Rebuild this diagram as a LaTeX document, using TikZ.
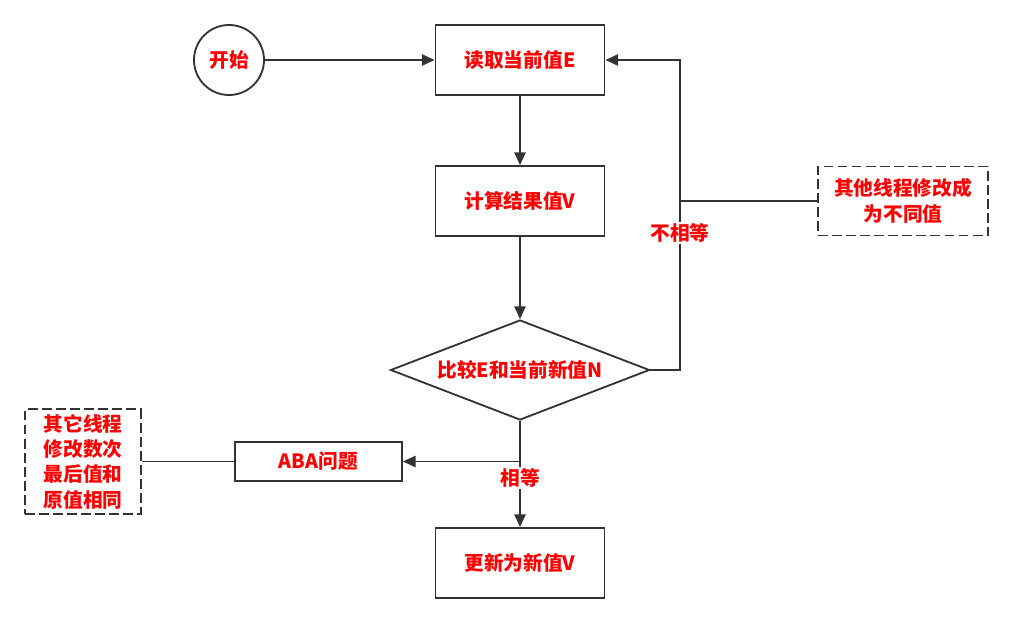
\documentclass[tikz,border=0pt]{standalone}
\usepackage{fontspec}
\setmainfont{Noto Sans CJK SC}
\usetikzlibrary{shapes.geometric, arrows.meta}
\definecolor{ink}{HTML}{333333}
\definecolor{alert}{HTML}{FF0000}

\begin{document}
\begin{tikzpicture}[x=0.025cm, y=-0.025cm, font=\bfseries\fontsize{14}{18}\selectfont,
  box/.style={draw=ink, line width=1.3pt, rectangle, minimum width=4.225cm, minimum height=1.75cm, text=alert},
  startnode/.style={draw=ink, line width=1.3pt, circle, minimum size=1.75cm, inner sep=0pt, text=alert},
  decision/.style={draw=ink, line width=1.3pt, diamond, minimum width=6.475cm, minimum height=2.5cm, inner sep=0pt, aspect=2.6, text=alert},
  note/.style={draw=ink, line width=1.3pt, dash pattern=on 7pt off 3pt, align=center, text=alert},
  flow/.style={draw=ink, line width=1.3pt, -{Triangle[length=9pt, width=8pt]}},
  link/.style={draw=ink, line width=1.3pt},
  lbl/.style={fill=white, inner sep=1pt, text=alert}]
  \useasboundingbox (0,0) rectangle (1013,623);

  % main column
  \node[startnode] (start) at (229,60) {开始};
  \node[box] (read) at (520,60) {读取当前值E};
  \node[box] (calc) at (520,201) {计算结果值V};
  \node[decision] (cmp) at (520,370) {比较E和当前新值N};
  \node[box] (update) at (520,563) {更新为新值V};

  % side boxes
  \node[box, minimum width=4.175cm, minimum height=0.975cm] (aba) at (318.5,461.5) {ABA问题};
  \node[note, minimum width=2.9cm, minimum height=2.575cm] (abanote) at (83,461.5) {其它线程\\修改数次\\最后值和\\原值相同};
  \node[note, minimum width=4.25cm, minimum height=1.725cm] (othernote) at (903,201) {其他线程修改成\\为不同值};
  \coordinate (loop) at (680,201);

  % connectors
  \draw[flow] (start) -- (read);
  \draw[flow] (read) -- (calc);
  \draw[flow] (calc) -- (cmp);
  \draw[flow] (cmp.east) -| (loop) |- (read.east);
  \draw[link] (othernote) -- (loop);
  \node[lbl] (neq) at (680,233) {不相等};
  \draw[flow] (cmp.south) |- (aba.east);
  \draw[flow] (cmp.south) -- (update.north);
  \node[lbl] (eq) at (520,478) {相等};
  \draw[link] (aba) -- (abanote);
\end{tikzpicture}
\end{document}
